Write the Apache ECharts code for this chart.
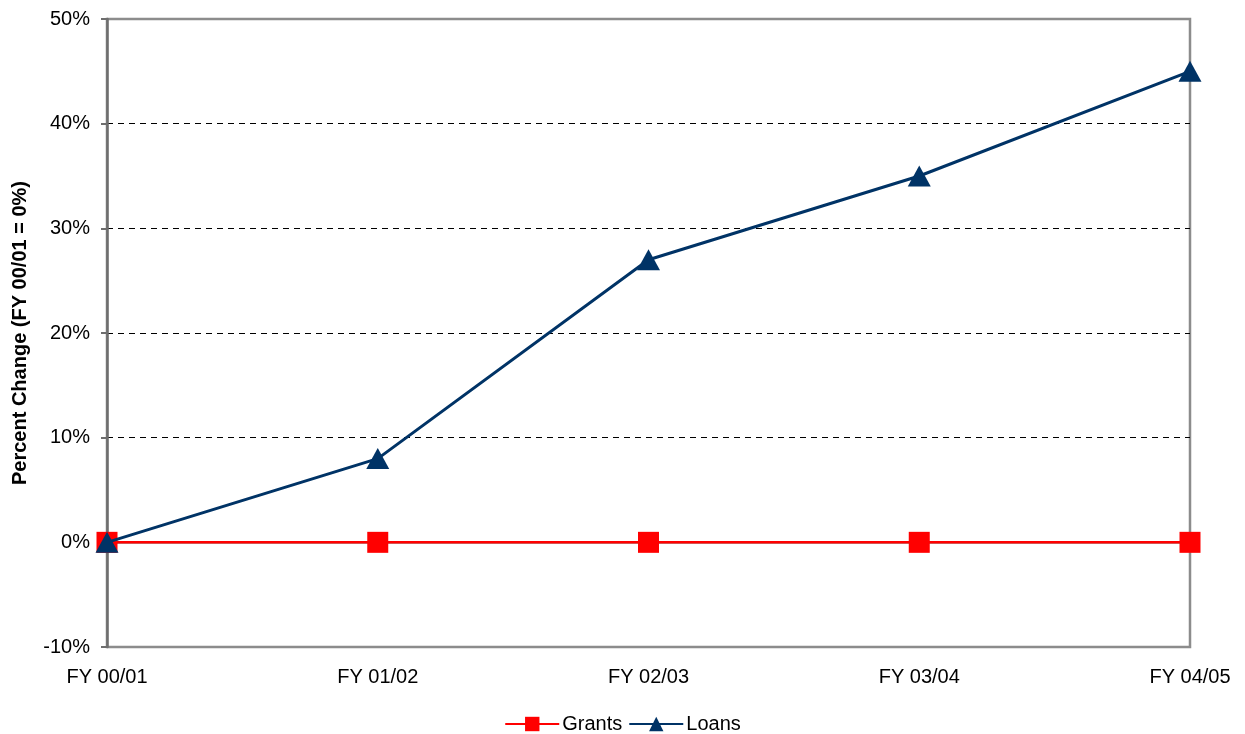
<!DOCTYPE html>
<html><head><meta charset="utf-8">
<script src="https://cdn.jsdelivr.net/npm/echarts@6/dist/echarts.min.js"></script>
<style>html,body{margin:0;padding:0;background:#fff}#c{width:1245px;height:734px}</style>
</head><body><div id="c"></div>
<script>
const categories = ['FY 00/01','FY 01/02','FY 02/03','FY 03/04','FY 04/05'];
const grants = [0, 0, 0, 0, 0];
const loans = [0, 8, 27, 35, 45];
const yTitle = 'Percent Change (FY 00/01 = 0%)';

const chart = echarts.init(document.getElementById('c'), null, {renderer:'canvas'});
const font = 'Arial, "Liberation Sans", sans-serif';
chart.setOption({
  animation:false,
  backgroundColor:'#fff',
  grid:{left:107,right:55,top:19,bottom:87,show:true,borderColor:'#8c8c8c',borderWidth:2.5,backgroundColor:'transparent'},
  legend:{top:709,left:'center',itemWidth:54,itemHeight:18,itemGap:6,
    textStyle:{fontFamily:font,fontSize:20,color:'#000',padding:[0,0,0,-2]},
    data:['Grants','Loans']},
  xAxis:{type:'category',data:categories,boundaryGap:false,
    axisLine:{show:true,lineStyle:{color:'#8c8c8c',width:2.5}},
    axisTick:{show:false},
    axisLabel:{fontFamily:font,fontSize:20,color:'#000',margin:20}},
  yAxis:{type:'value',min:-10,max:50,interval:10,
    name:yTitle,nameLocation:'middle',nameGap:77,
    nameTextStyle:{fontFamily:font,fontSize:20,fontWeight:'bold',color:'#000'},
    axisLine:{show:true,lineStyle:{color:'#6e6e6e',width:2.5}},
    axisTick:{show:true,length:6,lineStyle:{color:'#6e6e6e',width:2}},
    axisLabel:{fontFamily:font,fontSize:20,color:'#000',margin:17,formatter:v=>v+'%'},
    splitLine:{show:true,showMinLine:false,showMaxLine:false,lineStyle:{color:'#000',type:[6,5],width:1}}},
  series:[
    {name:'Grants',type:'line',data:grants,symbol:'rect',symbolSize:21,
      lineStyle:{color:'#ff0000',width:2.5},itemStyle:{color:'#ff0000'},z:2},
    {name:'Loans',type:'line',data:loans,symbol:'triangle',symbolSize:[23,21],
      lineStyle:{color:'#003366',width:3},itemStyle:{color:'#003366'},z:3}
  ]
});
</script></body></html>
